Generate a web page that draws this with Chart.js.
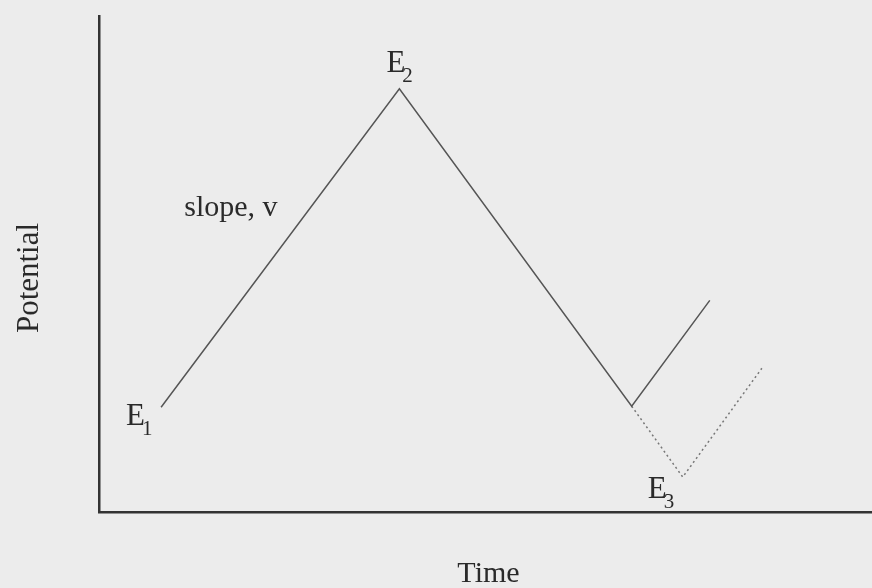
<!DOCTYPE html>
<html>
<head>
<meta charset="utf-8">
<script src="https://cdn.jsdelivr.net/npm/chart.js@4.4.1/dist/chart.umd.min.js"></script>
<style>
  html, body { margin: 0; padding: 0; background: #ececec; }
  canvas { display: block; }
</style>
</head>
<body>
<canvas id="sweep" width="872" height="588"></canvas>
<script>
// triangular potential sweep: E1 -> E2 -> E3 (solid), alternate reversal (dotted)
const sweepTime = [6.2, 30.0, 53.2, 61.0]
const sweepPotential = [10.5, 42.4, 10.6, 21.2]
const altTime = [53.2, 58.3, 66.2]
const altPotential = [10.6, 3.5, 14.4]

const serif = '"Liberation Serif", "DejaVu Serif", serif'
const ink = '#2a2a2a'

const toPoints = (xs, ys) => xs.map((x, i) => ({ x, y: ys[i] }))

// E with a subscript, placed next to a data point
function vertexLabel(ctx, chart, pt, sub, dx, dy) {
  const px = chart.scales.x.getPixelForValue(pt.x) + dx
  const py = chart.scales.y.getPixelForValue(pt.y) + dy
  ctx.font = `31px ${serif}`
  ctx.fillText('E', px, py)
  const w = ctx.measureText('E').width
  ctx.font = `21px ${serif}`
  ctx.fillText(sub, px + w - 3, py + 10)
}

const labels = {
  id: 'labels',
  afterDraw(chart) {
    const { ctx, chartArea } = chart
    const sx = chart.scales.x, sy = chart.scales.y
    ctx.save()
    ctx.fillStyle = ink
    ctx.textBaseline = 'alphabetic'
    ctx.textAlign = 'left'

    vertexLabel(ctx, chart, { x: sweepTime[0], y: sweepPotential[0] }, '1', -35, 18)
    vertexLabel(ctx, chart, { x: sweepTime[1], y: sweepPotential[1] }, '2', -13, -17)
    vertexLabel(ctx, chart, { x: altTime[1], y: altPotential[1] }, '3', -35, 21)

    // slope label beside the rising segment
    const mx = (sx.getPixelForValue(sweepTime[0]) + sx.getPixelForValue(sweepTime[1])) / 2
    const my = (sy.getPixelForValue(sweepPotential[0]) + sy.getPixelForValue(sweepPotential[1])) / 2
    ctx.font = `30px ${serif}`
    ctx.fillText('slope, v', mx - 96, my - 32)

    // axis titles
    ctx.textAlign = 'center'
    ctx.fillText('Time', (chartArea.left + chartArea.right) / 2 + 3, chartArea.bottom + 70)
    ctx.translate(38, 278)
    ctx.rotate(-Math.PI / 2)
    ctx.font = `31px ${serif}`
    ctx.fillText('Potential', 0, 0)
    ctx.restore()
  }
}

const axisOpts = {
  display: true,
  ticks: { display: false },
  grid: { display: false },
  border: { display: true, color: '#333', width: 2.5 }
}

new Chart(document.getElementById('sweep'), {
  type: 'scatter',
  data: {
    datasets: [{
      data: toPoints(sweepTime, sweepPotential),
      showLine: true,
      borderColor: '#555',
      borderWidth: 1.5,
      pointRadius: 0,
      tension: 0
    }, {
      data: toPoints(altTime, altPotential),
      showLine: true,
      borderColor: '#777',
      borderWidth: 1.5,
      borderDash: [2, 3],
      pointRadius: 0,
      tension: 0
    }]
  },
  options: {
    responsive: false,
    animation: false,
    layout: { padding: { left: 91, top: 16, right: 0, bottom: 68 } },
    plugins: {
      legend: { display: false },
      tooltip: { enabled: false }
    },
    scales: {
      x: { ...axisOpts, type: 'linear', min: 0, max: 77.2 },
      y: { ...axisOpts, type: 'linear', min: 0, max: 49.7 }
    }
  },
  plugins: [labels]
})
</script>
</body>
</html>
